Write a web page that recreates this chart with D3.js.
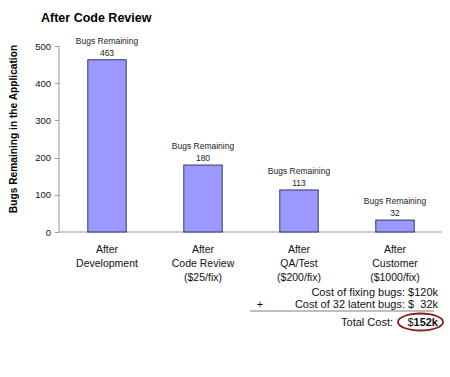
<!DOCTYPE html>
<html>
<head>
<meta charset="utf-8">
<script src="https://cdn.jsdelivr.net/npm/d3@7"></script>
<style>
  body { margin: 0; background: #fff; }
  svg { font-family: "Liberation Sans", Arial, sans-serif; }
</style>
</head>
<body>
<svg id="chart" width="450" height="377"></svg>
<script>
const stages   = ['After Development', 'After Code Review', 'After QA/Test', 'After Customer'];
const labels   = [['After', 'Development'], ['After', 'Code Review', '($25/fix)'],
                  ['After', 'QA/Test', '($200/fix)'], ['After', 'Customer', '($1000/fix)']];
const bugs     = [463, 180, 113, 32];
const yTicks   = [0, 100, 200, 300, 400, 500];
const costRows = [
    { sign: '',  text: 'Cost of fixing bugs: $120k' },
    { sign: '+', text: 'Cost of 32 latent bugs: $\u00a0\u00a032k' }
];
const totalLabel = 'Total Cost:';
const totalValue = '152k';

const svg = d3.select('#chart');

const x = d3.scaleBand().domain(stages).range([59, 443]).paddingInner(0.6).paddingOuter(0.3);
const y = d3.scaleLinear().domain([0, 500]).range([232, 46]);

// title
svg.append('text').attr('x', 41).attr('y', 22)
    .attr('font-size', 12.5).attr('font-weight', 'bold').text('After Code Review');

// y axis title
svg.append('text')
    .attr('transform', 'translate(17,129) rotate(-90)')
    .attr('text-anchor', 'middle')
    .attr('font-size', 10.2).attr('font-weight', 'bold')
    .text('Bugs Remaining in the Application');

// axes
const axisCol = '#999';
svg.append('line').attr('x1', 59).attr('x2', 59).attr('y1', y(500)).attr('y2', y(0)).attr('stroke', axisCol);
svg.append('line').attr('x1', 59).attr('x2', 442).attr('y1', y(0)).attr('y2', y(0)).attr('stroke', axisCol);

const ty = svg.selectAll('.ytick').data(yTicks).join('g').attr('class', 'ytick');
ty.append('line').attr('x1', 55).attr('x2', 59)
    .attr('y1', d => Math.round(y(d)) + 0.5).attr('y2', d => Math.round(y(d)) + 0.5)
    .attr('stroke', axisCol);
ty.append('text').attr('x', 51).attr('y', d => y(d) + 3.5)
    .attr('text-anchor', 'end').attr('font-size', 9.5).attr('fill', '#111').text(d => d);

// bars
svg.selectAll('.bar').data(stages).join('rect').attr('class', 'bar')
    .attr('x', d => x(d)).attr('width', x.bandwidth())
    .attr('y', (d, i) => y(bugs[i])).attr('height', (d, i) => y(0) - y(bugs[i]))
    .attr('fill', '#9999ff').attr('stroke', '#33337a').attr('stroke-width', 1);

// bar annotations
const ann = svg.selectAll('.ann').data(stages).join('g').attr('class', 'ann')
    .attr('transform', (d, i) => `translate(${x(d) + x.bandwidth() / 2},${y(bugs[i])})`)
    .attr('text-anchor', 'middle').attr('font-size', 8.5).attr('fill', '#222');
ann.append('text').attr('y', -16).text('Bugs Remaining');
ann.append('text').attr('y', -4).text((d, i) => bugs[i]);

// category labels
const cat = svg.selectAll('.cat').data(stages).join('text').attr('class', 'cat')
    .attr('text-anchor', 'middle').attr('font-size', 10.5).attr('fill', '#111');
cat.selectAll('tspan').data((d, i) => labels[i].map(t => ({ t, cx: x(d) + x.bandwidth() / 2 })))
    .join('tspan').attr('x', d => d.cx).attr('y', (d, j) => 253 + j * 14).text(d => d.t);

// cost summary
const rowY = [295.5, 308];
costRows.forEach((r, i) => {
    svg.append('text').attr('x', 438).attr('y', rowY[i]).attr('text-anchor', 'end')
        .attr('font-size', 11).attr('fill', '#111').attr('xml:space', 'preserve').text(r.text);
    if (r.sign) svg.append('text').attr('x', 260).attr('y', rowY[i]).attr('text-anchor', 'middle')
        .attr('font-size', 11).attr('fill', '#111').text(r.sign);
});
svg.append('line').attr('x1', 250).attr('x2', 434).attr('y1', 311).attr('y2', 311)
    .attr('stroke', '#aaa').attr('stroke-width', 1.5);

svg.append('text').attr('x', 393).attr('y', 325.5).attr('text-anchor', 'end')
    .attr('font-size', 11).attr('fill', '#111').text(totalLabel);
const tot = svg.append('text').attr('x', 438).attr('y', 325.5).attr('text-anchor', 'end')
    .attr('font-size', 11).attr('fill', '#111');
tot.append('tspan').text('$');
tot.append('tspan').attr('font-weight', 'bold').text(totalValue);

svg.append('ellipse').attr('cx', 420.5).attr('cy', 322).attr('rx', 22.5).attr('ry', 8.5)
    .attr('fill', 'none').attr('stroke', '#8b1a1a').attr('stroke-width', 1.8);
</script>
</body>
</html>
